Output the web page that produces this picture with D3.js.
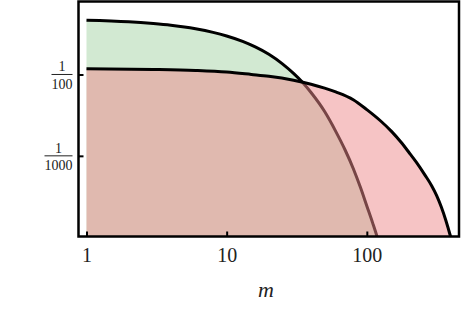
<!DOCTYPE html>
<html>
<head>
<meta charset="utf-8">
<script src="https://cdn.jsdelivr.net/npm/d3@7"></script>
<style>
  body { margin: 0; background: #fff; }
</style>
</head>
<body>
<div id="chart"></div>
<script>
// curve A (green)
const mA = [1, 2, 3, 4, 5, 6, 8, 10, 13, 16, 20, 25, 30, 35, 40, 50, 60, 70, 80, 90, 100, 110, 120, 130];
const yA = [0.0465, 0.0445, 0.0422, 0.0402, 0.0383, 0.0364, 0.0329, 0.0297, 0.0255, 0.0218, 0.0177, 0.0135,
  0.0103, 0.0079, 0.0060, 0.0035, 0.0020, 0.00118, 0.00070, 0.00041, 0.000242, 0.000150, 0.000094, 0.000057];

// curve B (pink)
const mB = [1, 3, 6, 10, 15, 20, 30, 40, 50, 60, 80, 100, 125, 150, 175, 200, 226, 260, 290, 315, 340, 365, 392, 420];
const yB = [0.0118, 0.01155, 0.0112, 0.0107, 0.0100, 0.0095, 0.0085, 0.0076, 0.0068, 0.0061, 0.0049, 0.0037,
  0.0027, 0.0020, 0.00148, 0.00110, 0.00083, 0.00058, 0.00043, 0.000325, 0.000235, 0.000164, 0.000108, 0.000068];

const xTicks = [1, 10, 100];
const xTickLabels = ['1', '10', '100'];
const yTicks = [0.01, 0.001];
const yTickDen = ['100', '1000'];

const serif = '"Liberation Serif", "DejaVu Serif", serif';

// set the dimensions and margins of the graph
const W = 462, H = 309;
const plotL = 78.5, plotR = 459, plotT = 1.5, plotB = 236.5;

const svg = d3
  .select('#chart')
  .append('svg')
  .attr('width', W)
  .attr('height', H);

const x = d3.scaleLog().domain([0.877, 454.6]).range([plotL, plotR]);
const y = d3.scaleLog().domain([1.02e-4, 0.0789]).range([plotB, plotT]);

svg.append('clipPath').attr('id', 'plot')
  .append('rect')
  .attr('x', plotL).attr('y', plotT)
  .attr('width', plotR - plotL).attr('height', plotB - plotT);

const dataA = mA.map((m, i) => ({ m: m, v: yA[i] }));
const dataB = mB.map((m, i) => ({ m: m, v: yB[i] }));

const area = d3.area()
  .x(d => x(d.m))
  .y0(plotB + 5)
  .y1(d => y(d.v))
  .curve(d3.curveMonotoneX);

const line = d3.line()
  .x(d => x(d.m))
  .y(d => y(d.v))
  .curve(d3.curveMonotoneX);

const plot = svg.append('g').attr('clip-path', 'url(#plot)');

// green first, then pink on top with half opacity
plot.append('path').datum(dataA).attr('d', area).attr('fill', '#d2e9d2');
plot.append('path').datum(dataA).attr('d', line)
  .attr('fill', 'none').attr('stroke', '#000').attr('stroke-width', 3);
plot.append('path').datum(dataB).attr('d', area)
  .attr('fill', 'rgb(237,137,139)').attr('fill-opacity', 0.5);
plot.append('path').datum(dataB).attr('d', line)
  .attr('fill', 'none').attr('stroke', '#000').attr('stroke-width', 3);

// frame
svg.append('rect')
  .attr('x', plotL).attr('y', plotT)
  .attr('width', plotR - plotL).attr('height', plotB - plotT)
  .attr('fill', 'none').attr('stroke', '#000').attr('stroke-width', 2.5);

// x axis
const xAxis = svg.append('g')
  .attr('transform', `translate(0, ${plotB})`)
  .call(d3.axisBottom(x).tickValues(xTicks).tickSize(-5)
    .tickFormat((d, i) => xTickLabels[i]));
xAxis.select('.domain').remove();
xAxis.selectAll('line').attr('stroke', '#000').attr('stroke-width', 2);
xAxis.selectAll('text')
  .attr('y', 25).attr('dy', 0)
  .style('font-family', serif)
  .style('font-size', '20px').attr('fill', '#222');

// y axis with fraction labels
const yAxis = svg.append('g')
  .attr('transform', `translate(${plotL}, 0)`)
  .call(d3.axisLeft(y).tickValues(yTicks).tickSize(-5).tickFormat(''));
yAxis.select('.domain').remove();
yAxis.selectAll('line').attr('stroke', '#000').attr('stroke-width', 2);

const frac = svg.append('g').selectAll('g')
  .data(yTicks)
  .enter()
  .append('g')
  .attr('transform', d => `translate(${plotL - 6}, ${y(d)})`);
frac.each(function (d, i) {
  const g = d3.select(this);
  const den = g.append('text')
    .attr('text-anchor', 'end')
    .attr('y', 14.5)
    .attr('fill', '#222')
    .style('font-family', serif)
    .style('font-size', '14px')
    .text(yTickDen[i]);
  const w = den.node().getComputedTextLength();
  g.append('line')
    .attr('x1', -w).attr('x2', 0)
    .attr('stroke', '#222').attr('stroke-width', 1);
  g.append('text')
    .attr('text-anchor', 'middle')
    .attr('x', -w / 2)
    .attr('y', -3)
    .attr('fill', '#222')
    .style('font-family', serif)
    .style('font-size', '14px')
    .text('1');
});

// axis title
svg.append('text')
  .attr('x', 266).attr('y', 297)
  .attr('text-anchor', 'middle')
  .attr('fill', '#222')
  .style('font-family', serif)
  .style('font-size', '22px')
  .style('font-style', 'italic')
  .text('m');
</script>
</body>
</html>
